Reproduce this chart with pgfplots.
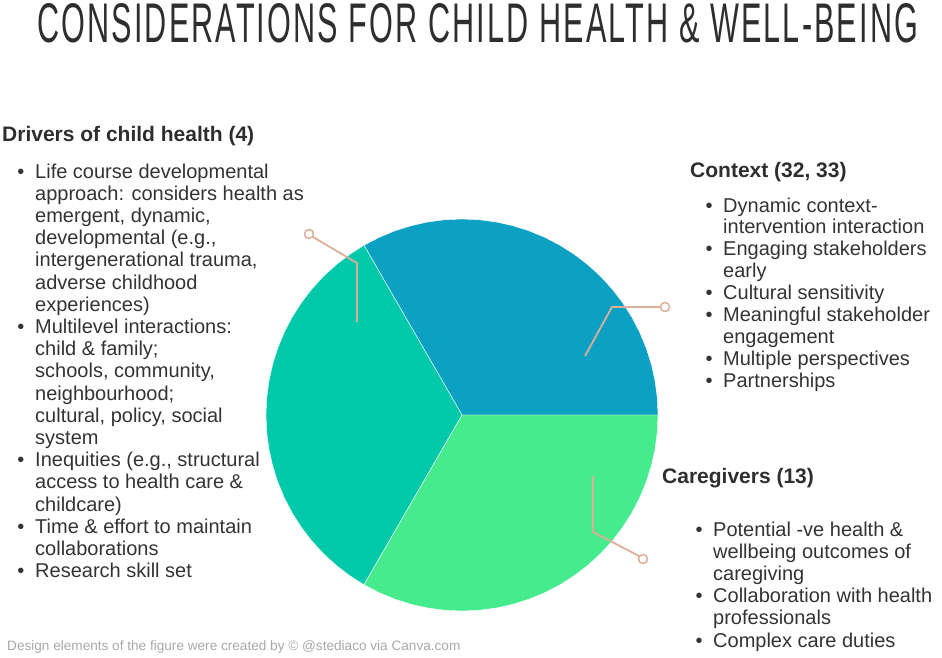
\documentclass[border=0pt]{standalone}
\usepackage{pgfplots}
\pgfplotsset{compat=1.18}
\usepgfplotslibrary{polar}
\usepackage{fontspec}
\setmainfont{Liberation Sans}
\usepackage{graphicx}
\definecolor{pieblue}{HTML}{0CA0C2}
\definecolor{pieteal}{HTML}{00C9AA}
\definecolor{piegreen}{HTML}{46EB8E}
\definecolor{leader}{HTML}{DDAF98}
\definecolor{txt}{HTML}{333333}
\definecolor{foot}{HTML}{A8A8A8}
\begin{document}
\begin{tikzpicture}
\begin{polaraxis}[
  at={(462pt,-415pt)}, anchor=center,
  scale only axis, width=392pt, height=392pt,
  xmin=0, xmax=360, ymin=0, ymax=1,
  hide axis, clip=false]
% slice shares: 1/3, 1/3, 1/3 -> 0-120, 120-240, 240-360 degrees
\addplot[fill=pieblue, draw=white, line width=0.4pt] coordinates {
 (0,0) (0,1) (5,1) (10,1) (15,1) (20,1) (25,1) (30,1) (35,1) (40,1) (45,1) (50,1) (55,1) (60,1)
 (65,1) (70,1) (75,1) (80,1) (85,1) (90,1) (95,1) (100,1) (105,1) (110,1) (115,1) (120,1) (0,0)};
\addplot[fill=pieteal, draw=white, line width=0.4pt] coordinates {
 (0,0) (120,1) (125,1) (130,1) (135,1) (140,1) (145,1) (150,1) (155,1) (160,1) (165,1) (170,1) (175,1) (180,1)
 (185,1) (190,1) (195,1) (200,1) (205,1) (210,1) (215,1) (220,1) (225,1) (230,1) (235,1) (240,1) (0,0)};
\addplot[fill=piegreen, draw=white, line width=0.4pt] coordinates {
 (0,0) (240,1) (245,1) (250,1) (255,1) (260,1) (265,1) (270,1) (275,1) (280,1) (285,1) (290,1) (295,1) (300,1)
 (305,1) (310,1) (315,1) (320,1) (325,1) (330,1) (335,1) (340,1) (345,1) (350,1) (355,1) (360,1) (0,0)};
\end{polaraxis}
\begin{scope}[x=1pt,y=-1pt]
\path[use as bounding box] (0,0) rectangle (942,658);
% title
\node[anchor=base west, inner sep=0pt, text=txt!90!black] at (37,43)
  {\resizebox{881pt}{39pt}{\fontsize{40}{40}\selectfont\addfontfeatures{LetterSpace=7}CONSIDERATIONS FOR CHILD HEALTH \& WELL-BEING}};
% leaders
\draw[leader, line width=1.8pt] (585,356) -- (612,307) -- (660,307);
\draw[leader, line width=1.5pt, fill=white] (665,307) circle (4.5);
\draw[leader, line width=1.8pt] (357,322) -- (357,263) -- (313,237);
\draw[leader, line width=1.5pt, fill=white] (309,234) circle (4.5);
\draw[leader, line width=1.8pt] (593,476) -- (593,532) -- (639,556);
\draw[leader, line width=1.5pt, fill=white] (643,559) circle (4.5);
% headings
\node[anchor=base west, inner sep=0pt, text=txt!90!black, font=\fontsize{21}{21}\selectfont\bfseries] at (2,142) {Drivers of child health (4)};
\node[anchor=base west, inner sep=0pt, text=txt!90!black, font=\fontsize{21}{21}\selectfont\bfseries] at (690,177) {Context (32, 33)};
\node[anchor=base west, inner sep=0pt, text=txt!90!black, font=\fontsize{21}{21}\selectfont\bfseries] at (662,483) {Caregivers (13)};
% left column
\foreach \t [count=\i from 0] in {Life course developmental,
  approach: considers health as,
  {emergent, dynamic,},
  {developmental (e.g.,},
  {intergenerational trauma,},
  adverse childhood,
  experiences),
  Multilevel interactions:,
  child \& family;,
  {schools, community,},
  neighbourhood;,
  {cultural, policy, social},
  system,
  {Inequities (e.g., structural},
  access to health care \&,
  childcare),
  Time \& effort to maintain,
  collaborations,
  Research skill set}
  \node[anchor=base west, inner sep=0pt, text=txt, font=\fontsize{20}{20}\selectfont] at (35,178+22.2*\i) {\t};
\foreach \i in {0,7,13,16,18}
  \node[anchor=base, inner sep=0pt, text=txt, font=\fontsize{20}{20}\selectfont] at (21,178+22.2*\i) {•};
% context column
\foreach \t [count=\i from 0] in {Dynamic context-,
  intervention interaction,
  Engaging stakeholders,
  early,
  Cultural sensitivity,
  Meaningful stakeholder,
  engagement,
  Multiple perspectives,
  Partnerships}
  \node[anchor=base west, inner sep=0pt, text=txt, font=\fontsize{20}{20}\selectfont] at (723,212+21.9*\i) {\t};
\foreach \i in {0,2,4,5,7,8}
  \node[anchor=base, inner sep=0pt, text=txt, font=\fontsize{20}{20}\selectfont] at (709,212+21.9*\i) {•};
% caregivers column
\foreach \t [count=\i from 0] in {Potential -ve health \&,
  wellbeing outcomes of,
  caregiving,
  Collaboration with health,
  professionals,
  Complex care duties}
  \node[anchor=base west, inner sep=0pt, text=txt, font=\fontsize{20}{20}\selectfont] at (713,536+22.2*\i) {\t};
\foreach \i in {0,3,5}
  \node[anchor=base, inner sep=0pt, text=txt, font=\fontsize{20}{20}\selectfont] at (699,536+22.2*\i) {•};
% footer
\node[anchor=base west, inner sep=0pt, text=foot, font=\fontsize{13.6}{13.6}\selectfont] at (7,650)
  {Design elements of the figure were created by © @stediaco via Canva.com};
\end{scope}
\end{tikzpicture}
\end{document}
